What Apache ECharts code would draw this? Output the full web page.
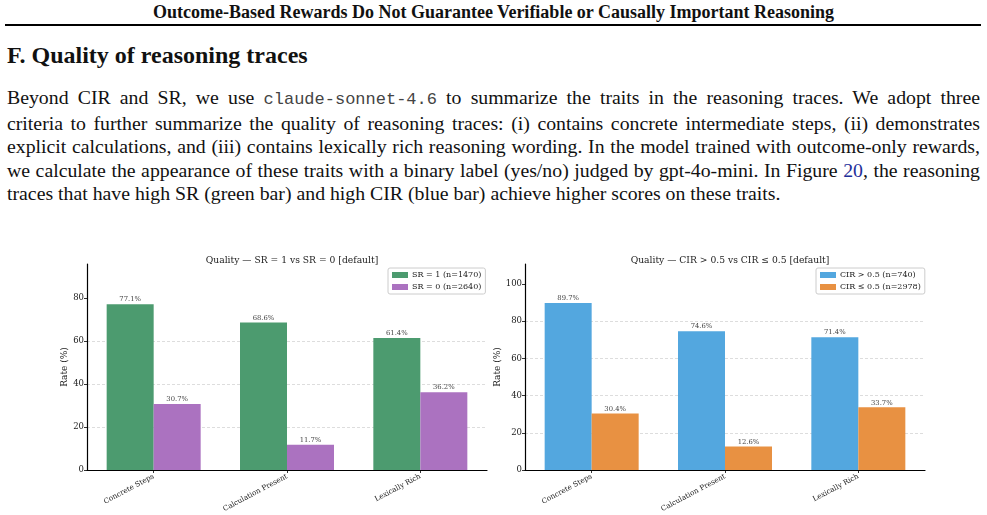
<!DOCTYPE html>
<html>
<head>
<meta charset="utf-8">
<script src="https://cdn.jsdelivr.net/npm/echarts@6/dist/echarts.min.js"></script>
<style>
  html, body { margin: 0; padding: 0; background: #fff; }
  body { width: 987px; height: 515px; position: relative; overflow: hidden; font-family: "Liberation Serif", serif; color: #111; }
  #runhead { position: absolute; top: 2px; left: 0; width: 987px; text-align: center; font-weight: bold; font-size: 18px; }
  #rule { position: absolute; top: 24px; left: 5px; width: 976px; height: 2px; background: #000; }
  #sec { position: absolute; top: 42px; left: 7px; font-weight: bold; font-size: 24px; }
  #para { position: absolute; top: 86px; left: 7px; width: 973px; font-size: 19.8px; line-height: 23.5px; }
  #para div { text-align: justify; text-align-last: justify; white-space: nowrap; }
  #para div.last { text-align-last: left; }
  .mono { font-family: "Liberation Mono", monospace; font-size: 17px; color: #444; }
  .ref { color: #1f2f99; }
  #graph { position: absolute; top: 0; left: 0; width: 987px; height: 515px; }
</style>
</head>
<body>
<div id="runhead">Outcome-Based Rewards Do Not Guarantee Verifiable or Causally Important Reasoning</div>
<div id="rule"></div>
<div id="sec">F. Quality of reasoning traces</div>
<div id="para">
  <div>Beyond CIR and SR, we use <span class="mono">claude-sonnet-4.6</span> to summarize the traits in the reasoning traces. We adopt three</div>
  <div>criteria to further summarize the quality of reasoning traces: (i) contains concrete intermediate steps, (ii) demonstrates</div>
  <div>explicit calculations, and (iii) contains lexically rich reasoning wording. In the model trained with outcome-only rewards,</div>
  <div>we calculate the appearance of these traits with a binary label (yes/no) judged by gpt-4o-mini. In Figure <span class="ref">20</span>, the reasoning</div>
  <div class="last">traces that have high SR (green bar) and high CIR (blue bar) achieve higher scores on these traits.</div>
</div>
<div id="graph"></div>
<script>
// categories and values
var categories = ['Concrete Steps', 'Calculation Present', 'Lexically Rich'];

var srHigh = [77.1, 68.6, 61.4];   // SR = 1 (n=1470)
var srLow = [30.7, 11.7, 36.2];    // SR = 0 (n=2640)
var cirHigh = [89.7, 74.6, 71.4];  // CIR > 0.5 (n=740)
var cirLow = [30.4, 12.6, 33.7];   // CIR <= 0.5 (n=2978)

var leftTicks = [0, 20, 40, 60, 80];
var rightTicks = [0, 20, 40, 60, 80, 100];

var serif = 'DejaVu Serif';
var myChart = echarts.init(document.getElementById('graph'));

function yAxis(idx, max, ticks) {
    return {
        type: 'value',
        gridIndex: idx,
        min: 0,
        max: max,
        interval: 20,
        name: 'Rate (%)',
        nameLocation: 'middle',
        nameGap: 18,
        nameTextStyle: { fontFamily: serif, fontSize: 9, color: '#222' },
        axisLine: { show: true, lineStyle: { color: '#000', width: 1.2 } },
        axisTick: { show: true, length: 3, customValues: ticks, lineStyle: { color: '#000', width: 0.8 } },
        axisLabel: { customValues: ticks, fontFamily: serif, fontSize: 8.5, color: '#222', margin: 3 },
        splitLine: {
            show: true, showMinLine: false, showMaxLine: false,
            lineStyle: { type: [3, 2], color: '#d4d4d4', width: 0.8 }
        }
    };
}

function xAxis(idx) {
    return {
        type: 'category',
        gridIndex: idx,
        data: categories,
        axisLine: { show: true, lineStyle: { color: '#000', width: 1.2 } },
        axisTick: { show: true, alignWithLabel: true, length: 3, lineStyle: { color: '#000', width: 0.8 } },
        axisLabel: { rotate: 28, fontFamily: serif, fontSize: 7.2, color: '#222', margin: 6, interval: 0 }
    };
}

function barLabel() {
    return {
        show: true,
        position: 'top',
        distance: 1,
        fontFamily: serif,
        fontSize: 6.8,
        color: '#444',
        formatter: function (p) { return p.value.toFixed(1) + '%'; }
    };
}

function legend(x, y, names) {
    return {
        orient: 'vertical',
        left: x,
        top: y,
        data: names,
        itemWidth: 16,
        itemHeight: 6,
        itemGap: 4,
        padding: [3, 4, 3, 4],
        borderColor: '#cccccc',
        borderWidth: 1,
        borderRadius: 2,
        backgroundColor: '#fff',
        icon: 'rect',
        textStyle: { fontFamily: serif, fontSize: 8, color: '#222', padding: [0, 0, 0, -1] }
    };
}

var option = {
    animation: false,
    title: [
        { text: 'Quality \u2014 SR = 1 vs SR = 0 [default]', left: 287, top: 251, textAlign: 'center',
          textStyle: { fontFamily: serif, fontSize: 9.2, fontWeight: 'normal', color: '#222' } },
        { text: 'Quality \u2014 CIR > 0.5 vs CIR \u2264 0.5 [default]', left: 725, top: 251, textAlign: 'center',
          textStyle: { fontFamily: serif, fontSize: 9.2, fontWeight: 'normal', color: '#222' } }
    ],
    legend: [
        legend(388, 268, ['SR = 1 (n=1470)', 'SR = 0 (n=2640)']),
        legend(816, 268, ['CIR > 0.5 (n=740)', 'CIR \u2264 0.5 (n=2978)'])
    ],
    grid: [
        { left: 87, top: 264, width: 400, height: 206 },
        { left: 525, top: 264, width: 400, height: 206 }
    ],
    xAxis: [xAxis(0), xAxis(1)],
    yAxis: [yAxis(0, 95.8, leftTicks), yAxis(1, 110.7, rightTicks)],
    series: [
        { name: 'SR = 1 (n=1470)', type: 'bar', xAxisIndex: 0, yAxisIndex: 0, barWidth: 47, barGap: '0%',
          itemStyle: { color: '#4c9b6f' }, label: barLabel(), data: srHigh },
        { name: 'SR = 0 (n=2640)', type: 'bar', xAxisIndex: 0, yAxisIndex: 0, barWidth: 47, barGap: '0%',
          itemStyle: { color: '#ab72c0' }, label: barLabel(), data: srLow },
        { name: 'CIR > 0.5 (n=740)', type: 'bar', xAxisIndex: 1, yAxisIndex: 1, barWidth: 47, barGap: '0%',
          itemStyle: { color: '#53a7df' }, label: barLabel(), data: cirHigh },
        { name: 'CIR \u2264 0.5 (n=2978)', type: 'bar', xAxisIndex: 1, yAxisIndex: 1, barWidth: 47, barGap: '0%',
          itemStyle: { color: '#e89142' }, label: barLabel(), data: cirLow }
    ]
};

myChart.setOption(option);
</script>
</body>
</html>
